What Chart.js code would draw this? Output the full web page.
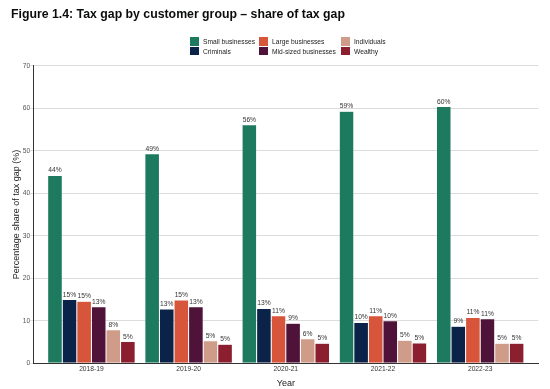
<!DOCTYPE html>
<html lang="en">
  <head>
    <meta charset="UTF-8" />
    <title>Tax gap by customer group</title>
    <script src="https://cdn.jsdelivr.net/npm/chart.js@4.4.0/dist/chart.umd.min.js"></script>
    <style>
      body {
        margin: 0;
        background: #fff;
        font-family: "Liberation Sans", Arial, sans-serif;
      }
      .wrap {
        position: relative;
        width: 550px;
        height: 389px;
      }
      .title {
        position: absolute;
        left: 11px;
        top: 8px;
        font-size: 12.3px;
        line-height: 1;
        font-weight: bold;
        color: #0b0c0c;
        white-space: nowrap;
      }
      .legend {
        position: absolute;
        left: 190px;
        top: 37px;
        display: grid;
        grid-template-columns: 69px 82px auto;
        grid-auto-rows: 9.4px;
        font-size: 6.7px;
        color: #222;
      }
      .legend div {
        display: flex;
        align-items: center;
        white-space: nowrap;
      }
      .legend span {
        display: inline-block;
        width: 8.5px;
        height: 8.5px;
        margin-right: 4.5px;
      }
      canvas {
        position: absolute;
        left: 0;
        top: 0;
      }
    </style>
  </head>
  <body>
    <div class="wrap">
      <canvas id="gapChart" width="550" height="389"></canvas>
      <div class="title">Figure 1.4: Tax gap by customer group – share of tax gap</div>
      <div class="legend" id="legend"></div>
    </div>

    <script>
      const years = ["2018-19", "2019-20", "2020-21", "2021-22", "2022-23"];

      const smallBusinesses = [44.2, 49.3, 56.1, 59.3, 60.4];
      const criminals = [15.0, 12.8, 12.9, 9.6, 8.7];
      const largeBusinesses = [14.6, 14.9, 11.2, 11.2, 10.8];
      const midSizedBusinesses = [13.3, 13.3, 9.4, 10.0, 10.5];
      const individuals = [7.9, 5.3, 5.8, 5.4, 4.7];
      const wealthy = [5.1, 4.5, 4.7, 4.8, 4.7];

      const yTicks = [0, 10, 20, 30, 40, 50, 60, 70];

      // bar order in each group
      const series = [
        { label: "Small businesses", values: smallBusinesses, color: "#1e7a5e" },
        { label: "Criminals", values: criminals, color: "#0c2349" },
        { label: "Large businesses", values: largeBusinesses, color: "#d6553b" },
        { label: "Mid-sized businesses", values: midSizedBusinesses, color: "#4f1238" },
        { label: "Individuals", values: individuals, color: "#d09c8a" },
        { label: "Wealthy", values: wealthy, color: "#8c1f2f" },
      ];

      // legend reads in columns
      const legendOrder = [
        "Small businesses", "Large businesses", "Individuals",
        "Criminals", "Mid-sized businesses", "Wealthy",
      ];

      const legend = document.getElementById("legend");
      legendOrder.forEach((name) => {
        const s = series.find((d) => d.label === name);
        const item = document.createElement("div");
        item.innerHTML = '<span style="background:' + s.color + '"></span>' + s.label;
        legend.appendChild(item);
      });

      const barLabels = {
        id: "barLabels",
        afterDatasetsDraw(chart) {
          const ctx = chart.ctx;
          ctx.save();
          ctx.font = '6.7px "Liberation Sans", Arial, sans-serif';
          ctx.fillStyle = "#333";
          ctx.textAlign = "center";
          ctx.textBaseline = "bottom";
          chart.data.datasets.forEach((ds, i) => {
            chart.getDatasetMeta(i).data.forEach((bar, j) => {
              ctx.fillText(Math.round(ds.data[j].y) + "%", bar.x, bar.y - 1.5);
            });
          });
          ctx.restore();
        },
      };

      const pad = 0.098;
      const axisFont = { family: '"Liberation Sans", Arial, sans-serif', size: 6.7 };

      new Chart(document.getElementById("gapChart"), {
        type: "bar",
        data: {
          datasets: series.map((s) => ({
            label: s.label,
            data: s.values.map((v, i) => ({ x: i, y: v })),
            backgroundColor: s.color,
            borderColor: "rgba(255,255,255,0.6)",
            borderWidth: 0.5,
            categoryPercentage: 0.9,
            barPercentage: 1,
          })),
        },
        options: {
          responsive: false,
          animation: false,
          layout: { padding: { top: 65.7, right: 11.7, bottom: 0, left: 0 } },
          plugins: { legend: { display: false }, tooltip: { enabled: false } },
          scales: {
            x: {
              type: "linear",
              min: -0.5 - pad,
              max: years.length - 0.5 + pad,
              offset: false,
              afterBuildTicks: (s) => {
                s.ticks = years.map((_, i) => ({ value: i }));
              },
              afterFit: (s) => {
                s.height = 25.7;
              },
              grid: { display: false, drawTicks: false, offset: false },
              border: { display: true, color: "#333", width: 1 },
              ticks: {
                autoSkip: false,
                maxRotation: 0,
                padding: 2,
                color: "#333",
                font: axisFont,
                callback: (v) => years[v],
              },
              title: {
                display: true,
                text: "Year",
                color: "#222",
                font: { family: axisFont.family, size: 9 },
                padding: { top: 5.6, bottom: 0 },
              },
            },
            y: {
              min: 0,
              max: 70,
              afterBuildTicks: (s) => {
                s.ticks = yTicks.map((v) => ({ value: v }));
              },
              afterFit: (s) => {
                s.width = 33.3;
              },
              grid: { color: "#dcdcdc", lineWidth: 1, tickLength: 3 },
              border: { display: true, color: "#333", width: 1 },
              ticks: { padding: 0, color: "#555", font: axisFont },
              title: {
                display: true,
                text: "Percentage share of tax gap (%)",
                color: "#222",
                font: { family: axisFont.family, size: 9 },
                padding: { top: 11.6, bottom: 0 },
              },
            },
          },
        },
        plugins: [barLabels],
      });
    </script>
  </body>
</html>
